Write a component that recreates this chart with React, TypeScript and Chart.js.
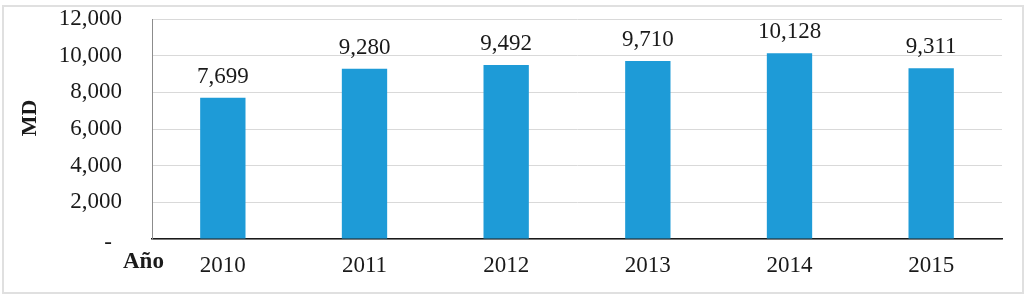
import React, { useEffect, useRef } from "react";
import { Chart, registerables } from "chart.js";

Chart.register(...registerables);

const categories = ["2010", "2011", "2012", "2013", "2014", "2015"];
const values = [7699, 9280, 9492, 9710, 10128, 9311];
const yMin = 0;
const yMax = 12000;
const yStep = 2000;
const yTitle = "MD";
const xTitle = "Año";
const zeroLabel = "-";

const FONT = '"Liberation Serif", "Times New Roman", serif';
const TEXT = "#1a1a1a";
const FS = 23;

const fmt = (v: number) => v.toLocaleString("en-US");

const textPlugin = {
  id: "texts",
  afterDatasetsDraw(chart: any) {
    const ctx = chart.ctx;
    const meta = chart.getDatasetMeta(0);
    ctx.save();
    ctx.fillStyle = TEXT;
    ctx.font = `${FS}px ${FONT}`;
    ctx.textAlign = "center";
    ctx.textBaseline = "alphabetic";
    meta.data.forEach((el: any, i: number) => {
      ctx.fillText(fmt(values[i]), el.x, el.y - 15);
    });
    ctx.restore();
  },
  afterDraw(chart: any) {
    const ctx = chart.ctx;
    const area = chart.chartArea;
    const yScale = chart.scales.y;
    ctx.save();
    ctx.fillStyle = TEXT;
    ctx.font = `bold 22px ${FONT}`;
    ctx.textAlign = "center";
    ctx.textBaseline = "middle";
    ctx.translate(30, 118);
    ctx.rotate(-Math.PI / 2);
    ctx.fillText(yTitle, 0, 0);
    ctx.restore();

    ctx.save();
    ctx.fillStyle = TEXT;
    ctx.font = `bold ${FS}px ${FONT}`;
    ctx.textAlign = "left";
    ctx.textBaseline = "alphabetic";
    ctx.fillText(xTitle, area.left - 29, 268);
    ctx.restore();

    ctx.save();
    ctx.fillStyle = TEXT;
    ctx.font = `${FS}px ${FONT}`;
    ctx.textAlign = "center";
    ctx.textBaseline = "middle";
    ctx.fillText(zeroLabel, area.left - 44, yScale.getPixelForValue(0) + 4);
    ctx.restore();
  },
};

export default function App() {
  const ref = useRef<HTMLCanvasElement>(null);
  useEffect(() => {
    if (!ref.current) return;
    const chart = new Chart(ref.current, {
      type: "bar",
      data: {
        labels: categories,
        datasets: [
          {
            data: values,
            backgroundColor: "#1e9bd7",
            barPercentage: 0.32,
            categoryPercentage: 1,
          },
        ],
      },
      options: {
        responsive: false,
        animation: false,
        devicePixelRatio: 1,
        layout: { padding: { left: 0, top: 19, right: 26, bottom: 0 } },
        plugins: {
          legend: { display: false },
          tooltip: { enabled: false },
        },
        scales: {
          x: {
            grid: { display: false, drawTicks: false },
            border: { display: true, color: "#1a1a1a", width: 1.5 },
            ticks: {
              color: TEXT,
              font: { family: FONT, size: FS },
              padding: 13,
              maxRotation: 0,
            },
            afterFit: (s: any) => {
              s.height = 59;
              s.paddingLeft = 0;
              s.paddingRight = 0;
            },
          },
          y: {
            min: yMin,
            max: yMax,
            grid: { color: "#d9d9d9", lineWidth: 1, drawTicks: false },
            border: { display: true, color: "#8c8c8c", width: 1 },
            ticks: {
              stepSize: yStep,
              color: TEXT,
              font: { family: FONT, size: FS },
              padding: 30,
              callback: (v: any) => (Number(v) === 0 ? "" : fmt(Number(v))),
            },
            afterFit: (s: any) => {
              s.width = 152;
              s.paddingTop = 0;
              s.paddingBottom = 0;
            },
          },
        },
      },
      plugins: [textPlugin],
    });
    return () => chart.destroy();
  }, []);

  return (
    <div style={{ position: "fixed", left: 0, top: 0, width: 1028, height: 298, background: "#fff" }}>
      <div
        style={{
          position: "absolute",
          left: 2,
          top: 5,
          width: 1022,
          height: 289,
          boxSizing: "border-box",
          border: "2px solid #e0e0e0",
        }}
      />
      <canvas ref={ref} width={1028} height={298} style={{ position: "absolute", left: 0, top: 0 }} />
    </div>
  );
}
